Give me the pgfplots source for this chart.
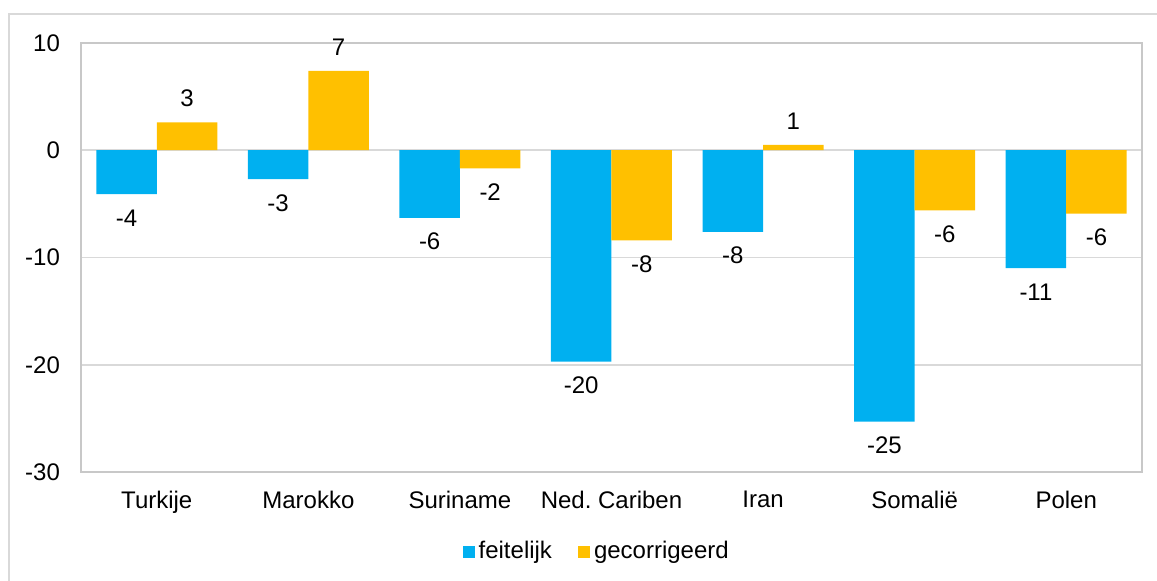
\documentclass[border=0pt]{standalone}
\usepackage{fontspec}
\setmainfont{Liberation Sans}
\usepackage{pgfplots}
\usepackage{pgfplotstable}
\pgfplotsset{compat=1.18}
\frenchspacing
\definecolor{cblue}{HTML}{00B0F0}
\definecolor{corange}{HTML}{FFC000}
\definecolor{gridc}{HTML}{D9D9D9}
\definecolor{framec}{HTML}{C8C8C8}
\pgfplotstableread{
x feit lf gec lg
0 -4.1 -4 2.6 3
1 -2.7 -3 7.4 7
2 -6.3 -6 -1.7 -2
3 -19.7 -20 -8.4 -8
4 -7.6 -8 0.5 1
5 -25.3 -25 -5.6 -6
6 -11.0 -11 -5.9 -6
}\data
\begin{document}
\begin{tikzpicture}
\useasboundingbox (-40.5pt,-54.5pt) rectangle (538pt,236pt);
\draw[gridc, line width=1pt] (-36pt,-60pt) -- (-36pt,229pt) -- (545pt,229pt);
\begin{axis}[
  at={(0,0)}, anchor=south west, scale only axis,
  width=530.5pt, height=214.5pt,
  ybar=0pt, bar width=30.25pt,
  xmin=-0.5, xmax=6.5, ymin=-30, ymax=10,
  ytick={-30,-20,-10,0,10},
  xtick={0,...,6},
  xticklabels={Turkije,Marokko,Suriname,Ned.\ Cariben,Iran,Somalië,Polen},
  axis line style={framec, line width=0.8pt},
  ymajorgrids, grid style={gridc, line width=0.8pt},
  major tick length=0pt,
  tick label style={font=\fontsize{12}{14}\selectfont},
  /pgf/number format/assume math mode=true,
  yticklabel style={xshift=-7pt},
  xticklabel style={yshift=-6pt},
  nodes near coords,
  point meta=explicit symbolic,
  visualization depends on={rawy \as \rawyv},
  nodes near coords style={font=\fontsize{12}{14}\selectfont, inner ysep=7.5pt, text=black,
    /utils/exec={\ifdim\rawyv pt<0pt \def\myanc{north}\else\def\myanc{south}\fi},
    anchor=\myanc},
  legend style={draw=none, at={(0.487,-0.186)}, anchor=center,
    font=\fontsize{12}{14}\selectfont, legend columns=2,
    /tikz/every even column/.append style={column sep=11pt},
    inner sep=0pt},
  legend image code/.code={\fill[#1] (-1.5pt,-3pt) rectangle (4.5pt,3pt);},
]
\addplot[fill=cblue, draw=none] table[x=x, y=feit, meta=lf] {\data};
\addplot[fill=corange, draw=none] table[x=x, y=gec, meta=lg] {\data};
\legend{feitelijk, gecorrigeerd}
\end{axis}
\end{tikzpicture}
\end{document}
